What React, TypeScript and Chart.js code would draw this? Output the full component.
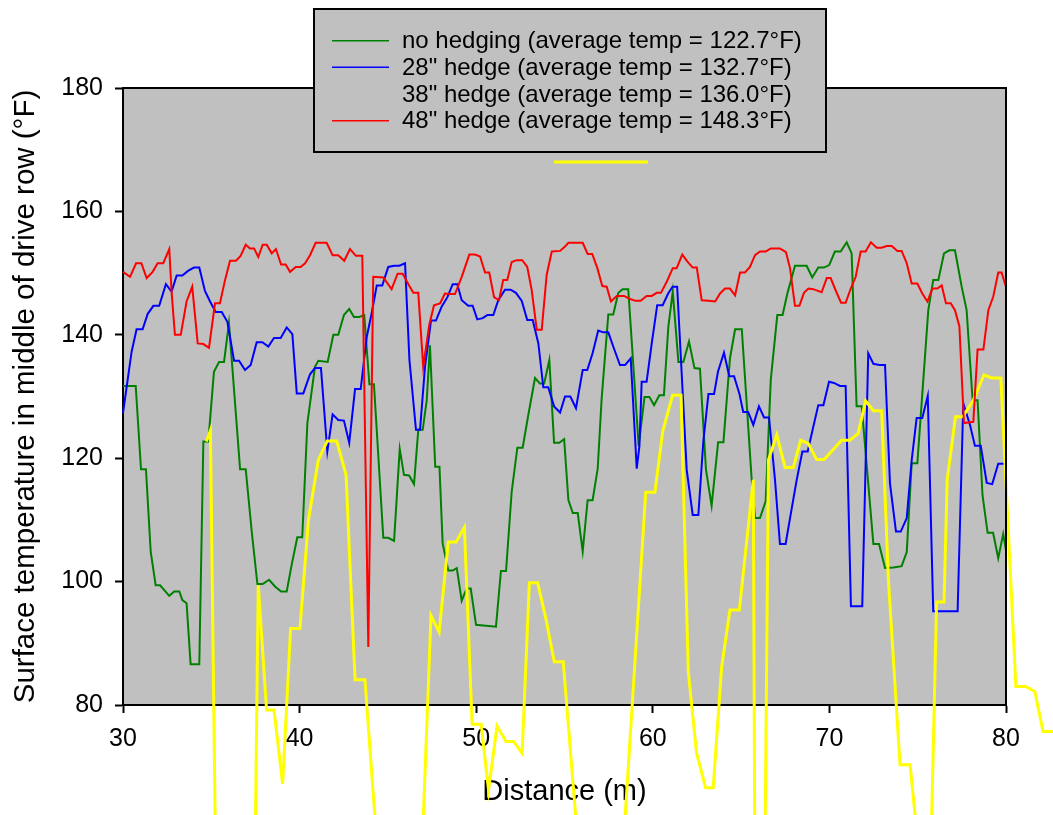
import React, { useEffect, useRef } from 'react';
import { Chart, registerables } from 'chart.js';

Chart.register(...registerables);

const FONT = "'Liberation Sans', Arial, Helvetica, sans-serif";

const seriesLabels = [
  'no hedging (average temp = 122.7°F)',
  '28" hedge (average temp = 132.7°F)',
  '38" hedge (average temp = 136.0°F)',
  '48" hedge (average temp = 148.3°F)',
];
const seriesColors = ['#008000', '#0000ff', '#ffff00', '#ff0000'];

const xTitle = 'Distance (m)';
const yTitle = 'Surface temperature in middle of drive row (°F)';

// no hedging
const greenX = [30.0, 30.72, 31.02, 31.3, 31.57, 31.85, 32.1, 32.62, 32.9, 33.19, 33.36, 33.6, 33.83, 34.32, 34.55, 34.83, 35.15, 35.44, 35.72, 36.0, 36.63, 36.95, 37.29, 37.61, 37.91, 38.27, 38.61, 38.95, 39.27, 39.55, 39.87, 40.15, 40.44, 40.87, 41.06, 41.59, 41.91, 42.19, 42.51, 42.81, 43.08, 43.38, 43.66, 43.95, 44.21, 44.74, 45.02, 45.35, 45.67, 45.91, 46.2, 46.48, 46.72, 46.97, 47.2, 47.38, 47.68, 47.92, 48.1, 48.42, 48.67, 48.9, 49.18, 49.46, 49.69, 49.99, 51.12, 51.4, 51.69, 52.01, 52.33, 52.63, 52.95, 53.33, 53.61, 53.85, 54.14, 54.41, 54.71, 54.98, 55.22, 55.47, 55.75, 56.03, 56.31, 56.59, 56.88, 57.1, 57.48, 57.76, 58.05, 58.29, 58.61, 59.2, 59.53, 59.81, 60.07, 60.37, 60.63, 60.88, 61.13, 61.45, 61.73, 62.05, 62.36, 62.67, 63.01, 63.33, 63.7, 64.0, 64.37, 64.66, 65.04, 65.6, 65.79, 66.07, 66.39, 66.68, 67.05, 67.35, 67.62, 68.05, 68.71, 69.03, 69.37, 69.69, 69.99, 70.31, 70.64, 70.98, 71.26, 71.54, 71.83, 72.49, 72.81, 73.15, 73.62, 74.09, 74.38, 74.66, 74.98, 75.6, 75.88, 76.17, 76.49, 76.79, 77.11, 77.49, 77.77, 78.11, 78.39, 78.67, 78.96, 79.27, 79.56, 79.84, 80.0];
const greenY = [131.7, 131.7, 118.2, 118.2, 104.8, 99.4, 99.4, 97.7, 98.4, 98.4, 97.0, 96.5, 86.6, 86.6, 122.7, 122.7, 134.0, 135.6, 135.6, 141.9, 118.2, 118.2, 108.1, 99.6, 99.6, 100.3, 99.2, 98.4, 98.4, 102.7, 107.2, 107.2, 125.7, 134.8, 135.8, 135.6, 140.0, 140.0, 143.2, 144.2, 142.9, 142.9, 143.2, 132.0, 132.0, 107.1, 107.1, 106.6, 121.5, 117.3, 117.2, 115.8, 124.6, 124.6, 129.4, 138.3, 118.6, 118.6, 106.2, 101.8, 101.8, 102.2, 96.9, 98.9, 98.9, 93.0, 92.7, 101.7, 101.7, 114.6, 121.7, 121.7, 127.0, 133.0, 132.1, 132.1, 135.9, 122.5, 122.5, 123.1, 113.2, 111.1, 111.1, 104.9, 113.2, 113.2, 118.3, 129.5, 143.3, 143.3, 146.8, 147.4, 147.4, 122.0, 129.9, 129.9, 128.6, 130.2, 130.2, 141.3, 147.0, 135.6, 135.6, 138.9, 134.6, 134.5, 118.2, 112.3, 122.6, 122.6, 136.2, 140.9, 140.9, 116.5, 110.3, 110.3, 113.0, 132.7, 143.2, 143.2, 146.7, 151.2, 151.2, 149.3, 150.9, 150.9, 151.3, 153.5, 153.5, 155.0, 153.2, 128.4, 128.4, 106.1, 106.1, 102.2, 102.3, 102.5, 104.8, 119.2, 119.2, 144.0, 148.9, 148.9, 153.2, 153.7, 153.7, 147.8, 144.0, 129.4, 129.4, 114.0, 107.9, 107.9, 103.8, 107.7, 105.1];

// 28" hedge
const blueX = [30.0, 30.49, 30.77, 31.11, 31.4, 31.72, 32.05, 32.43, 32.75, 33.04, 33.36, 33.7, 34.02, 34.32, 34.64, 34.93, 35.25, 35.59, 35.91, 36.29, 36.57, 36.91, 37.23, 37.57, 37.89, 38.23, 38.55, 38.93, 39.27, 39.59, 39.84, 40.21, 40.59, 40.87, 41.21, 41.57, 41.87, 42.19, 42.51, 42.81, 43.14, 43.46, 43.8, 44.08, 44.37, 44.68, 45.02, 45.35, 45.65, 45.97, 46.22, 46.59, 46.82, 47.1, 47.44, 47.72, 48.05, 48.37, 48.67, 48.93, 49.18, 49.55, 49.8, 50.06, 50.37, 50.63, 50.97, 51.25, 51.63, 51.95, 52.25, 52.58, 52.89, 53.2, 53.52, 53.8, 54.08, 54.41, 54.75, 55.03, 55.33, 55.65, 56.03, 56.29, 56.59, 56.91, 57.2, 57.48, 57.76, 58.14, 58.43, 58.75, 59.09, 59.24, 59.37, 59.65, 59.94, 60.25, 60.56, 60.87, 61.12, 61.38, 61.92, 62.26, 62.58, 62.86, 63.15, 63.47, 63.69, 64.03, 64.33, 64.6, 64.9, 65.12, 65.4, 65.69, 66.01, 66.3, 66.58, 66.92, 67.2, 67.52, 67.82, 68.15, 68.47, 68.77, 69.05, 69.37, 69.66, 69.98, 70.26, 70.6, 70.92, 71.22, 71.86, 72.2, 72.49, 72.83, 73.15, 73.43, 73.77, 74.04, 74.38, 74.66, 74.94, 75.26, 75.57, 75.88, 77.26, 77.58, 77.96, 78.24, 78.57, 78.91, 79.22, 79.56, 80.0];
const blueY = [127.3, 137.3, 140.9, 140.9, 143.4, 144.7, 144.7, 148.2, 147.0, 149.6, 149.6, 150.4, 150.9, 150.9, 147.1, 145.4, 143.7, 143.7, 142.1, 135.8, 135.8, 134.3, 135.1, 138.8, 138.8, 138.1, 139.5, 139.5, 141.2, 140.1, 130.5, 130.5, 133.6, 134.6, 134.6, 121.1, 127.1, 126.2, 126.1, 122.5, 131.2, 131.2, 139.6, 143.5, 148.0, 148.0, 151.0, 151.2, 151.2, 151.6, 135.9, 124.6, 124.6, 134.8, 142.3, 142.3, 144.6, 146.1, 148.2, 148.2, 145.6, 144.7, 144.7, 142.5, 142.7, 143.2, 143.2, 145.6, 147.3, 147.3, 146.8, 145.5, 142.4, 142.4, 138.6, 131.5, 131.5, 128.4, 127.4, 130.0, 130.0, 128.1, 134.3, 134.3, 137.0, 140.7, 140.4, 140.4, 138.1, 135.1, 135.1, 136.2, 118.3, 121.9, 132.4, 132.4, 138.6, 144.8, 144.8, 146.7, 147.8, 147.8, 118.1, 110.8, 110.8, 122.7, 130.4, 130.4, 134.0, 137.1, 133.3, 133.3, 130.5, 127.5, 127.5, 125.4, 128.4, 126.6, 126.6, 116.5, 106.1, 106.1, 111.1, 116.5, 121.1, 121.1, 124.6, 128.6, 128.6, 132.4, 132.2, 131.7, 131.7, 96.0, 96.0, 137.0, 135.3, 135.1, 135.1, 115.9, 108.1, 108.1, 110.3, 119.7, 126.5, 126.5, 130.1, 95.2, 95.2, 128.9, 125.4, 122.0, 122.0, 116.0, 115.8, 119.1, 119.1];

// 38" hedge
const yellowX = [34.72, 34.95, 35.3, 37.42, 37.66, 38.13, 38.55, 39.04, 39.49, 40.02, 40.5, 41.06, 41.57, 42.1, 42.63, 43.14, 43.7, 44.18, 44.6, 46.85, 47.44, 47.9, 48.42, 48.86, 49.33, 49.77, 50.28, 50.7, 51.18, 51.69, 52.12, 52.6, 53.01, 53.48, 53.96, 54.42, 54.93, 55.97, 58.17, 59.6, 60.12, 60.56, 61.12, 61.6, 62.01, 62.48, 62.99, 63.42, 63.9, 64.37, 64.9, 65.69, 65.8, 66.3, 66.55, 67.02, 67.49, 67.96, 68.37, 68.8, 69.27, 69.7, 70.18, 70.69, 71.16, 71.63, 72.05, 72.49, 72.96, 73.34, 74.0, 74.57, 75.45, 75.66, 76.07, 76.49, 76.67, 77.14, 77.55, 78.15, 78.75, 79.18, 79.71, 80.56, 81.12, 81.63, 82.1, 82.7];
const yellowY = [122.7, 124.5, 42, 42, 99.4, 79.2, 79.2, 67.2, 92.4, 92.4, 110.0, 119.7, 122.8, 122.8, 117.3, 84.1, 84.1, 65.2, 50, 50, 94.5, 91.8, 106.4, 106.4, 108.8, 76.9, 76.9, 66.2, 76.6, 74.1, 74.1, 72.2, 99.8, 99.8, 93.8, 87.0, 87.0, 50, 50, 114.5, 114.5, 124.3, 130.2, 130.2, 85.4, 72.2, 66.6, 66.6, 86.2, 95.4, 95.4, 116.5, 40, 40, 119.7, 123.8, 118.5, 118.5, 122.9, 122.4, 119.8, 119.8, 121.3, 122.9, 122.9, 124.0, 129.3, 127.7, 127.7, 100.3, 70.3, 70.3, 45, 45, 96.7, 96.7, 116.5, 126.7, 126.7, 129.4, 133.5, 133.0, 133.0, 83.0, 83.0, 82.2, 75.7, 75.7];

// 48" hedge
const redX = [30.0, 30.4, 30.74, 31.04, 31.34, 31.68, 31.96, 32.28, 32.62, 32.75, 32.94, 33.27, 33.6, 33.92, 34.23, 34.55, 34.87, 35.21, 35.49, 35.78, 36.06, 36.4, 36.66, 36.95, 37.19, 37.42, 37.66, 37.91, 38.14, 38.42, 38.66, 38.95, 39.21, 39.46, 39.78, 40.06, 40.31, 40.59, 40.91, 41.53, 41.87, 42.19, 42.53, 42.85, 43.19, 43.55, 43.89, 44.17, 44.74, 45.21, 45.55, 45.84, 46.16, 46.44, 46.72, 47.0, 47.34, 47.61, 47.95, 48.23, 48.51, 48.8, 49.18, 49.61, 49.93, 50.22, 50.5, 50.74, 51.01, 51.29, 51.53, 51.76, 52.01, 52.29, 52.61, 52.89, 53.14, 53.43, 53.71, 53.99, 54.28, 54.75, 55.03, 55.22, 56.03, 56.31, 56.57, 56.86, 57.14, 57.39, 57.63, 57.96, 58.37, 58.71, 59.03, 59.31, 59.65, 59.94, 60.22, 60.46, 60.79, 61.13, 61.35, 61.67, 61.95, 62.26, 62.49, 62.77, 63.15, 63.53, 63.81, 64.09, 64.37, 64.66, 64.94, 65.22, 65.5, 65.79, 66.07, 66.39, 66.68, 67.2, 67.54, 67.77, 68.05, 68.3, 68.56, 68.81, 69.09, 69.56, 69.85, 70.07, 70.37, 70.66, 70.92, 71.21, 71.49, 71.77, 72.05, 72.35, 72.68, 72.96, 73.24, 73.53, 73.85, 74.09, 74.38, 74.66, 74.98, 75.26, 75.55, 75.83, 76.11, 76.36, 76.6, 76.87, 77.11, 77.36, 77.62, 78.15, 78.39, 78.72, 79.0, 79.28, 79.56, 79.75, 80.0];
const redY = [150.2, 149.4, 151.6, 151.6, 149.2, 150.2, 151.6, 151.6, 153.9, 147.0, 140.0, 140.0, 145.4, 147.8, 138.6, 138.5, 137.9, 145.1, 145.1, 148.9, 152.0, 152.0, 152.8, 154.6, 154.0, 154.0, 152.6, 154.6, 154.6, 153.2, 153.9, 151.4, 151.4, 150.2, 151.0, 151.0, 151.6, 152.9, 154.9, 154.9, 152.9, 152.9, 152.0, 153.9, 152.8, 152.8, 89.4, 149.4, 149.3, 147.4, 149.9, 149.9, 148.2, 146.8, 146.8, 134.8, 141.6, 144.8, 145.1, 146.7, 146.6, 146.6, 149.4, 153.0, 153.0, 152.7, 150.1, 150.1, 146.1, 145.6, 148.9, 148.9, 151.8, 152.1, 152.1, 151.0, 147.3, 140.8, 140.8, 149.7, 153.5, 153.6, 154.3, 154.9, 154.9, 153.1, 153.1, 150.8, 147.9, 147.8, 145.4, 146.3, 146.3, 145.8, 145.5, 145.5, 146.3, 146.3, 146.8, 146.8, 148.6, 150.8, 150.8, 153.0, 151.9, 150.9, 150.9, 145.6, 145.5, 145.4, 146.7, 147.5, 147.5, 146.4, 150.1, 150.1, 151.0, 152.9, 153.5, 153.5, 154.0, 154.0, 153.4, 150.8, 144.7, 144.7, 146.8, 147.5, 147.4, 146.9, 149.2, 149.2, 147.1, 145.2, 145.2, 147.5, 149.4, 153.5, 153.5, 155.0, 154.1, 154.1, 154.4, 154.4, 153.6, 153.6, 151.6, 148.3, 148.3, 146.7, 145.4, 147.5, 147.5, 148.0, 145.1, 145.1, 144.0, 141.4, 125.7, 125.9, 137.6, 137.6, 144.0, 146.2, 150.1, 150.1, 147.8];

const xTickMin = 30;
const xTickMax = 80;
const xTickStep = 10;
const yTickMin = 80;
const yTickMax = 180;
const yTickStep = 20;

function toPoints(xs: number[], ys: number[]) {
  return xs.map((x, i) => ({ x, y: ys[i] }));
}

export default function App() {
  const canvasRef = useRef<HTMLCanvasElement | null>(null);

  useEffect(() => {
    const canvas = canvasRef.current;
    if (!canvas) return;

    const decor = {
      id: 'decor',
      beforeDraw(chart: any) {
        const { ctx, chartArea: a } = chart;
        ctx.save();
        ctx.fillStyle = '#c0c0c0';
        ctx.fillRect(a.left, a.top, a.right - a.left, a.bottom - a.top);
        ctx.restore();
      },
      afterDraw(chart: any) {
        const { ctx, chartArea: a } = chart;
        ctx.save();
        // frame top & right
        ctx.strokeStyle = '#000';
        ctx.lineWidth = 2;
        ctx.beginPath();
        ctx.moveTo(a.left, a.top);
        ctx.lineTo(a.right, a.top);
        ctx.lineTo(a.right, a.bottom);
        ctx.stroke();

        // legend box
        const bx = 314, by = 9, bw = 512, bh = 143;
        ctx.fillStyle = '#c0c0c0';
        ctx.fillRect(bx, by, bw, bh);
        ctx.strokeStyle = '#000';
        ctx.lineWidth = 2;
        ctx.strokeRect(bx, by, bw, bh);

        const rows = [40.7, 67.3, 94, 120.7];
        ctx.font = `24px ${FONT}`;
        ctx.textBaseline = 'middle';
        ctx.textAlign = 'left';
        chart.data.datasets.forEach((ds: any, i: number) => {
          const y = rows[i];
          if (i !== 2) {
            ctx.strokeStyle = ds.borderColor;
            ctx.lineWidth = 1.5;
            ctx.beginPath();
            ctx.moveTo(332, y);
            ctx.lineTo(389, y);
            ctx.stroke();
          }
          ctx.fillStyle = '#000';
          ctx.fillText(ds.label, 402, y + 1);
        });
        // misplaced yellow legend sample below the box
        const yds = chart.data.datasets[2];
        ctx.strokeStyle = yds.borderColor;
        ctx.lineWidth = 3;
        ctx.beginPath();
        ctx.moveTo(554, 162);
        ctx.lineTo(648, 162);
        ctx.stroke();
        ctx.restore();
      },
    };

    const xs = [greenX, blueX, yellowX, redX];
    const ys = [greenY, blueY, yellowY, redY];
    const widths = [2, 2, 3, 2];
    const orders = [3, 2, 1, 0];

    const chart = new Chart(canvas, {
      type: 'line',
      data: {
        datasets: seriesLabels.map((label, i) => ({
          label,
          data: toPoints(xs[i], ys[i]),
          borderColor: seriesColors[i],
          backgroundColor: seriesColors[i],
          borderWidth: widths[i],
          pointRadius: 0,
          tension: 0,
          fill: false,
          order: orders[i],
          clip: i === 2 ? false : undefined,
        })) as any,
      },
      options: {
        animation: false,
        responsive: false,
        devicePixelRatio: 1,
        layout: { padding: { top: 88, right: 47, left: 0, bottom: 0 } },
        plugins: {
          legend: { display: false },
          tooltip: { enabled: false },
        },
        scales: {
          x: {
            type: 'linear',
            position: 'bottom',
            afterDataLimits: (s: any) => {
              s.min = xTickMin;
              s.max = xTickMax;
            },
            afterFit: (s: any) => {
              s.height = 110;
            },
            ticks: {
              stepSize: xTickStep,
              color: '#000',
              font: { family: FONT, size: 25 },
              padding: 11,
              maxRotation: 0,
            },
            grid: {
              drawOnChartArea: false,
              drawTicks: true,
              tickLength: 8,
              tickWidth: 2,
              tickColor: '#000',
            },
            border: { display: true, color: '#000', width: 2 },
            title: {
              display: true,
              text: xTitle,
              color: '#000',
              font: { family: FONT, size: 29 },
              padding: { top: 0, bottom: 6 },
            },
          },
          y: {
            type: 'linear',
            min: yTickMin,
            max: yTickMax,
            afterFit: (s: any) => {
              s.width = 123;
            },
            ticks: {
              stepSize: yTickStep,
              color: '#000',
              font: { family: FONT, size: 25 },
              padding: 12,
            },
            grid: {
              drawOnChartArea: false,
              drawTicks: true,
              tickLength: 8,
              tickWidth: 2,
              tickColor: '#000',
            },
            border: { display: true, color: '#000', width: 2 },
            title: {
              display: true,
              text: yTitle,
              color: '#000',
              font: { family: FONT, size: 29.5 },
              padding: { top: 8, bottom: 0 },
            },
          },
        },
      },
      plugins: [decor],
    });

    return () => chart.destroy();
  }, []);

  return (
    <div style={{ position: 'absolute', left: 0, top: 0, width: 1053, height: 815, background: '#fff' }}>
      <canvas ref={canvasRef} width={1053} height={815} style={{ display: 'block' }} />
    </div>
  );
}
